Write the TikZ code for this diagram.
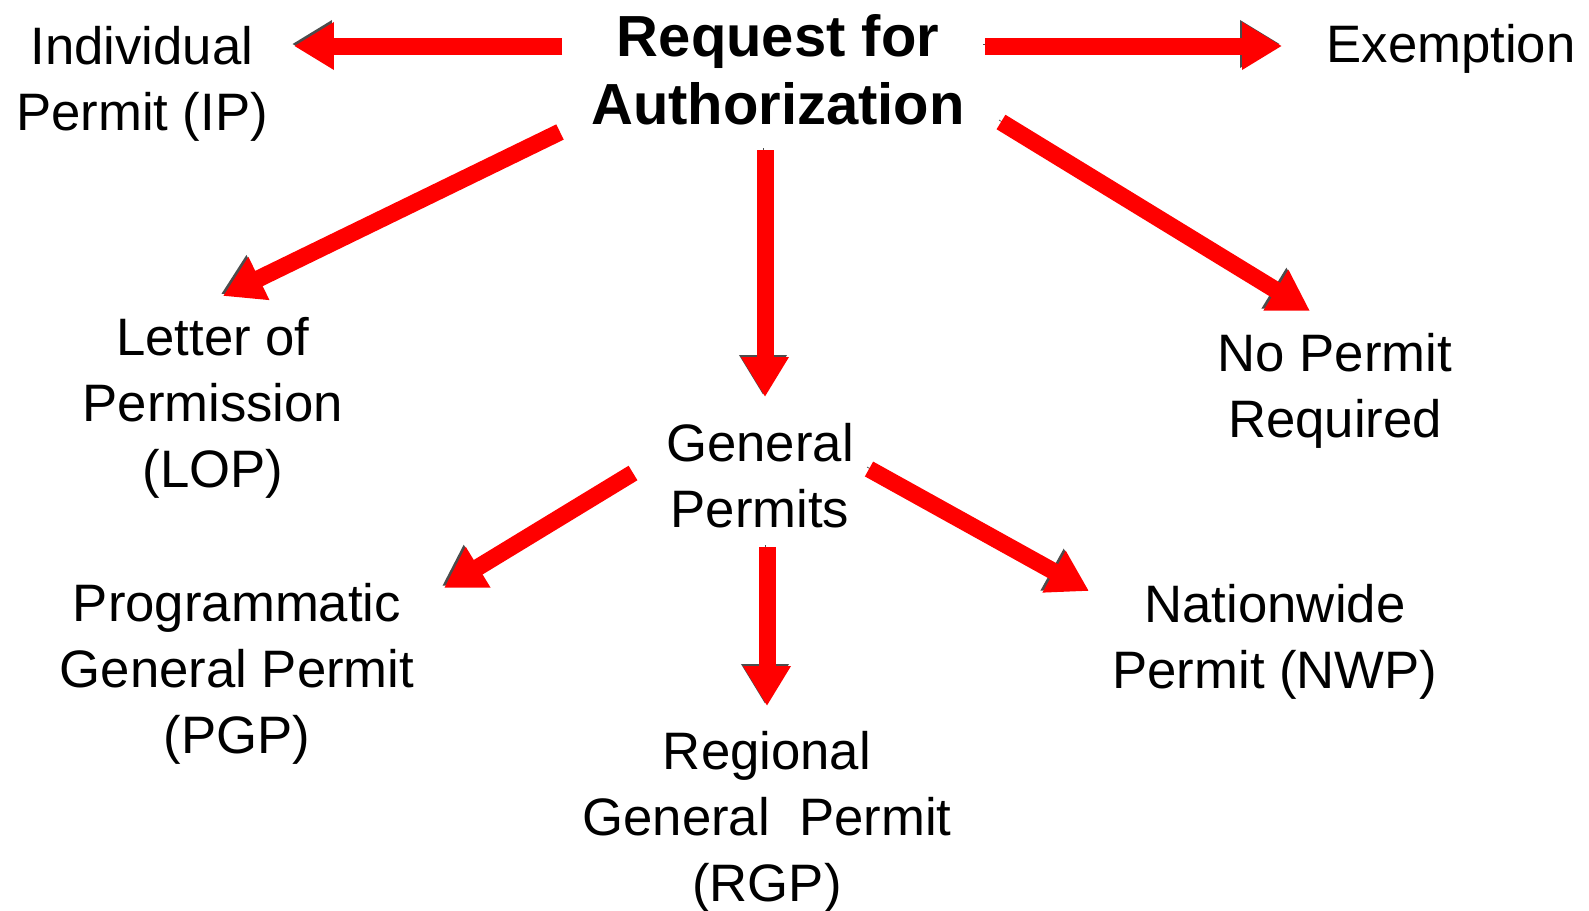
\documentclass[tikz,border=0pt]{standalone}
\usepackage{fontspec}
\setmainfont{Liberation Sans}
\usetikzlibrary{arrows.meta,calc}
\tikzset{%
txtnode/.style={align=center, inner sep=0pt, font=\fontsize{30}{37.6}\selectfont},
headnode/.style={align=center, inner sep=0pt, font=\fontsize{33}{38.7}\selectfont\bfseries},
redarrow/.style={draw=red, line width=0.34cm, -{Triangle[length=0.8cm,width=0.9cm]},
  preaction={draw=gray!60!black, transform canvas={xshift=-0.04cm,yshift=0.04cm}}}
}
\begin{document}
\begin{tikzpicture}[x=0.02cm, y=-0.02cm]
	\useasboundingbox (0,0) rectangle (1589,910);
	\node[headnode] (title) at (778,70) {Request for\\Authorization};
	\node[txtnode] (ip) at (142,84) {Individual\\Permit (IP)};
	\node[txtnode] (exempt) at (1451,49) {Exemption};
	\node[txtnode] (lop) at (213,408) {Letter of\\Permission\\(LOP)};
	\node[txtnode] (gen) at (760,476) {General\\Permits};
	\node[txtnode] (nopermit) at (1335,391) {No Permit\\Required};
	\node[txtnode] (pgp) at (237,674) {Programmatic\\General Permit\\(PGP)};
	\node[txtnode] (rgp) at (767,822) {Regional\\General\ \ Permit\\(RGP)};
	\node[txtnode] (nwp) at (1275,642) {Nationwide\\Permit (NWP)};

	\draw[redarrow] ($(title)+(-216,-24)$) -- ($(ip)+(152,-38)$);
	\draw[redarrow] ($(title)+(207,-24)$) -- ($(exempt)+(-169,-3)$);
	\draw[redarrow] ($(title)+(-218,62)$) -- ($(lop)+(10,-112)$);
	\draw[redarrow] ($(title)+(-13,80)$) -- ($(gen)+(5,-79)$);
	\draw[redarrow] ($(title)+(223,52)$) -- ($(nopermit)+(-25,-80)$);
	\draw[redarrow] ($(gen)+(-127,-3)$) -- ($(pgp)+(207,-86)$);
	\draw[redarrow] ($(gen)+(7,71)$) -- ($(rgp)+(0,-116)$);
	\draw[redarrow] ($(gen)+(109,-7)$) -- ($(nwp)+(-186,-51)$);
\end{tikzpicture}
\end{document}
